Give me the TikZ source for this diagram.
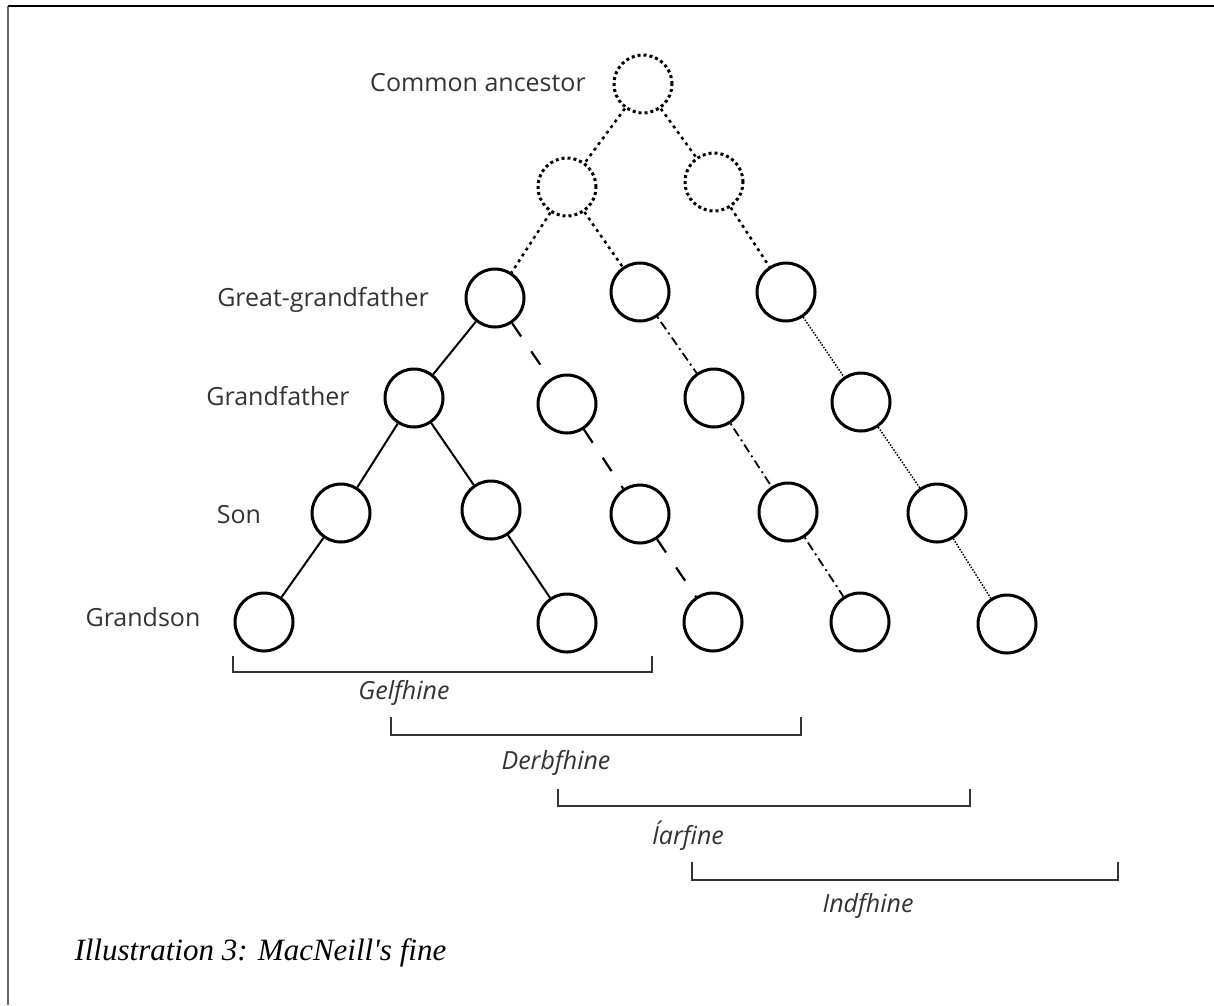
\documentclass[tikz,border=0pt]{standalone}
\usepackage{fontspec}
\newfontfamily\capfont{Liberation Serif}
\newfontfamily\labelfont{Open Sans}
\begin{document}
\begin{tikzpicture}[x=1pt, y=-1pt,
  person/.style={circle, draw=black, line width=3pt, minimum size=58pt, inner sep=0pt},
  ghost/.style={circle, draw=black, line width=3pt, minimum size=58pt, inner sep=0pt, dash pattern=on 3pt off 3pt},
  rank/.style={font=\labelfont\fontsize{25}{28}\selectfont, text=black!80},
  group/.style={font=\labelfont\itshape\fontsize{25}{28}\selectfont, text=black!80},
  bracketline/.style={draw=black!80, line width=2pt},
  kin/.style={draw=black, line width=2pt},
  unseen/.style={draw=black, line width=2.5pt, dash pattern=on 3pt off 4pt},
  lineA/.style={draw=black, line width=2.2pt, dash pattern=on 16pt off 18pt},
  lineB/.style={draw=black, line width=1.8pt, dash pattern=on 2pt off 4pt on 9pt off 4pt},
  lineC/.style={draw=black, line width=1.5pt, dash pattern=on 1.5pt off 1.5pt},
]
\useasboundingbox (0,0) rectangle (1214,1005);

% page frame
\coordinate (tl) at (8,6);
\coordinate (tr) at (1214,6);
\coordinate (bl) at (8,1005);
\draw[black!60, line width=2pt] (tl) -- (bl);
\draw[black, line width=2pt] (tl) -- (tr);

% generations
\node[ghost] (A) at (643,84) {};
\node[ghost] (B1) at (567,187) {};
\node[ghost] (B2) at (714,182) {};

\node[person] (C1) at (495,298) {};
\node[person] (C2) at (640,292) {};
\node[person] (C3) at (786,292) {};

\node[person] (D1) at (414,398) {};
\node[person] (D2) at (567,404) {};
\node[person] (D3) at (714,398) {};
\node[person] (D4) at (861,402) {};

\node[person] (E1) at (341,513) {};
\node[person] (E2) at (491,510) {};
\node[person] (E3) at (640,514) {};
\node[person] (E4) at (788,512) {};
\node[person] (E5) at (937,513) {};

\node[person] (F1) at (264,622) {};
\node[person] (F2) at (567,623) {};
\node[person] (F3) at (713,622) {};
\node[person] (F4) at (860,622) {};
\node[person] (F5) at (1007,624) {};

% generation labels
\node[rank] (lA) at (478,83) {Common ancestor};
\node[rank] (lC) at (323,300) {Great-grandfather};
\node[rank] (lD) at (278,396) {Grandfather};
\node[rank] (lE) at (239,515) {Son};
\node[rank] (lF) at (143,617) {Grandson};

% descent lines
\draw[unseen] (A) -- (B1);
\draw[unseen] (A) -- (B2);
\draw[unseen] (B1) -- (C1);
\draw[unseen] (B1) -- (C2);
\draw[unseen] (B2) -- (C3);

\draw[kin] (C1) -- (D1);
\draw[kin] (D1) -- (E1);
\draw[kin] (D1) -- (E2);
\draw[kin] (E1) -- (F1);
\draw[kin] (E2) -- (F2);

\draw[lineA] (C1) -- (D2);
\draw[lineA] (D2) -- (E3);
\draw[lineA] (E3) -- (F3);

\draw[lineB] (C2) -- (D3);
\draw[lineB] (D3) -- (E4);
\draw[lineB] (E4) -- (F4);

\draw[lineC] (C3) -- (D4);
\draw[lineC] (D4) -- (E5);
\draw[lineC] (E5) -- (F5);

% kin-group brackets
\coordinate (g1) at (233,656); \coordinate (g2) at (233,672);
\coordinate (g3) at (652,672); \coordinate (g4) at (652,656);
\draw[bracketline] (g1) -- (g2) -- (g3) -- (g4);
\node[group] (gel) at (404,693) {Gelfhine};

\coordinate (d1) at (391,717); \coordinate (d2) at (391,735);
\coordinate (d3) at (801,735); \coordinate (d4) at (801,717);
\draw[bracketline] (d1) -- (d2) -- (d3) -- (d4);
\node[group] (der) at (556,763) {Derbfhine};

\coordinate (i1) at (558,789); \coordinate (i2) at (558,806);
\coordinate (i3) at (970,806); \coordinate (i4) at (970,789);
\draw[bracketline] (i1) -- (i2) -- (i3) -- (i4);
\node[group] (iar) at (688,836) {Íarfine};

\coordinate (n1) at (692,862); \coordinate (n2) at (692,880);
\coordinate (n3) at (1118,880); \coordinate (n4) at (1118,862);
\draw[bracketline] (n1) -- (n2) -- (n3) -- (n4);
\node[group] (ind) at (868,906) {Indfhine};

% caption
\node[font=\capfont\itshape\fontsize{31}{36}\selectfont, anchor=west] (cap) at (71,953) {Illustration 3: MacNeill's fine};
\end{tikzpicture}
\end{document}
